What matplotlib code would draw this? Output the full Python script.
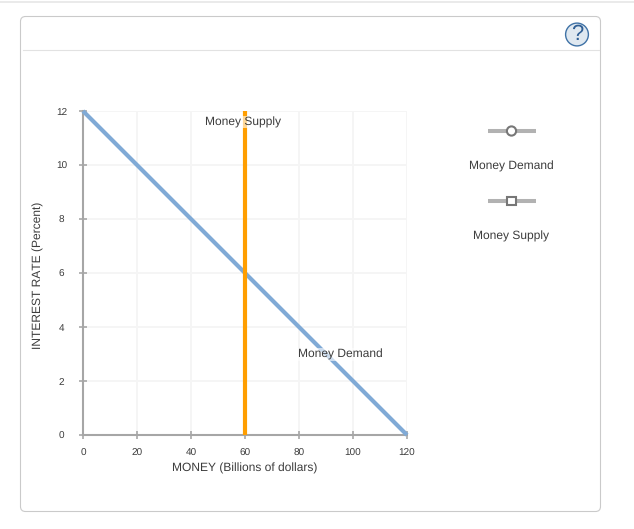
import matplotlib
matplotlib.use("Agg")
import matplotlib.pyplot as plt
from matplotlib.patches import FancyBboxPatch, Circle, Rectangle
from matplotlib.lines import Line2D

plt.rcParams['font.family'] = ['Liberation Sans', 'DejaVu Sans']
plt.rcParams['text.hinting'] = 'no_hinting'
plt.rcParams['text.hinting_factor'] = 1

demand_x = [0, 120]
demand_y = [12, 0]
supply_x = [60, 60]
supply_y = [0, 12]
x_ticks = [0, 20, 40, 60, 80, 100, 120]
y_ticks = [0, 2, 4, 6, 8, 10, 12]
x_label = "MONEY (Billions of dollars)"
y_label = "INTEREST RATE (Percent)"
legend_names = ["Money Demand", "Money Supply"]

W, H = 634, 529
TXT = '#3c3c3c'
fig = plt.figure(figsize=(W / 100, H / 100), dpi=100, facecolor='white')

# page-level overlay in pixel coordinates
bg = fig.add_axes([0, 0, 1, 1], zorder=0)
bg.set_xlim(0, W)
bg.set_ylim(H, 0)
bg.axis('off')
bg.add_line(Line2D([0, W], [2, 2], color='#e6e6e6', lw=1.2))
bg.add_patch(FancyBboxPatch((20.5, 16.5), 580, 495, boxstyle="round,pad=0,rounding_size=5",
                            fc='white', ec='#cacaca', lw=0.8))
bg.add_line(Line2D([23, 599], [50, 50], color='#e2e2e2', lw=0.8))

# help icon
bg.add_patch(Circle((577, 34.5), 11.4, fc='#dfe8f0', ec='#3f72a6', lw=1.0))
bg.text(577, 34.5, "?", ha='center', va='center', fontsize=15.5, color='#2f5f95')

# legend
for yc, ty, name, square in [(131, 166.5, legend_names[0], False), (201, 236.5, legend_names[1], True)]:
    bg.add_line(Line2D([487.5, 535.5], [yc, yc], color='#b2b2b2', lw=2.9, solid_capstyle='butt'))
    if square:
        bg.add_patch(Rectangle((507.3, yc - 4.2), 8.4, 8.4, fc='white', ec='#777777', lw=1.5, zorder=5))
    else:
        bg.add_patch(Circle((511.5, yc), 4.6, fc='white', ec='#777777', lw=1.5, zorder=5))
    bg.text(511.5, ty, name, ha='center', va='center', fontsize=8.65, color=TXT)

# chart
ax = fig.add_axes([83 / W, 1 - 435 / H, 324 / W, 324 / H], zorder=1)
ax.patch.set_alpha(0)
ax.set_xlim(0, 120)
ax.set_ylim(0, 12)
ax.set_xticks(x_ticks)
ax.set_yticks(y_ticks)
ax.grid(True, color='#f5f5f5', lw=1.4, zorder=0)
ax.set_axisbelow(True)
for s in ('top', 'right'):
    ax.spines[s].set_visible(False)
for s in ('left', 'bottom'):
    ax.spines[s].set_color('#a6a6a6')
    ax.spines[s].set_linewidth(1.5)
ax.tick_params(axis='both', direction='inout', length=5.8, width=1.1, color='#a0a0a0',
               labelsize=6.9, labelcolor=TXT)
ax.tick_params(axis='x', pad=6.6)
ax.tick_params(axis='y', pad=12.4)
for lab in ax.get_yticklabels():
    lab.set_ha('center')

ax.plot(demand_x, demand_y, color='#80aad6', lw=3, solid_capstyle='butt', clip_on=False, zorder=3)
ax.plot(supply_x, supply_y, color='#ff9e00', lw=3, solid_capstyle='butt', zorder=4)

ax.text(59.3, 11.59, "Money Supply", ha='center', va='center', fontsize=8.65, color=TXT, zorder=5,
        bbox=dict(fc='white', ec='none', alpha=0.6, pad=0.5))
ax.text(95.2, 2.99, "Money Demand", ha='center', va='center', fontsize=8.65, color=TXT, zorder=5,
        bbox=dict(fc='white', ec='none', alpha=0.6, pad=0.5))

bg.text(245, 468.5, x_label, ha='center', va='center', fontsize=8.65, color=TXT)
bg.text(38.5, 275, y_label, ha='center', va='center', rotation=90, fontsize=8.65, color=TXT)

fig.savefig("out.png", dpi=100, facecolor='white')
